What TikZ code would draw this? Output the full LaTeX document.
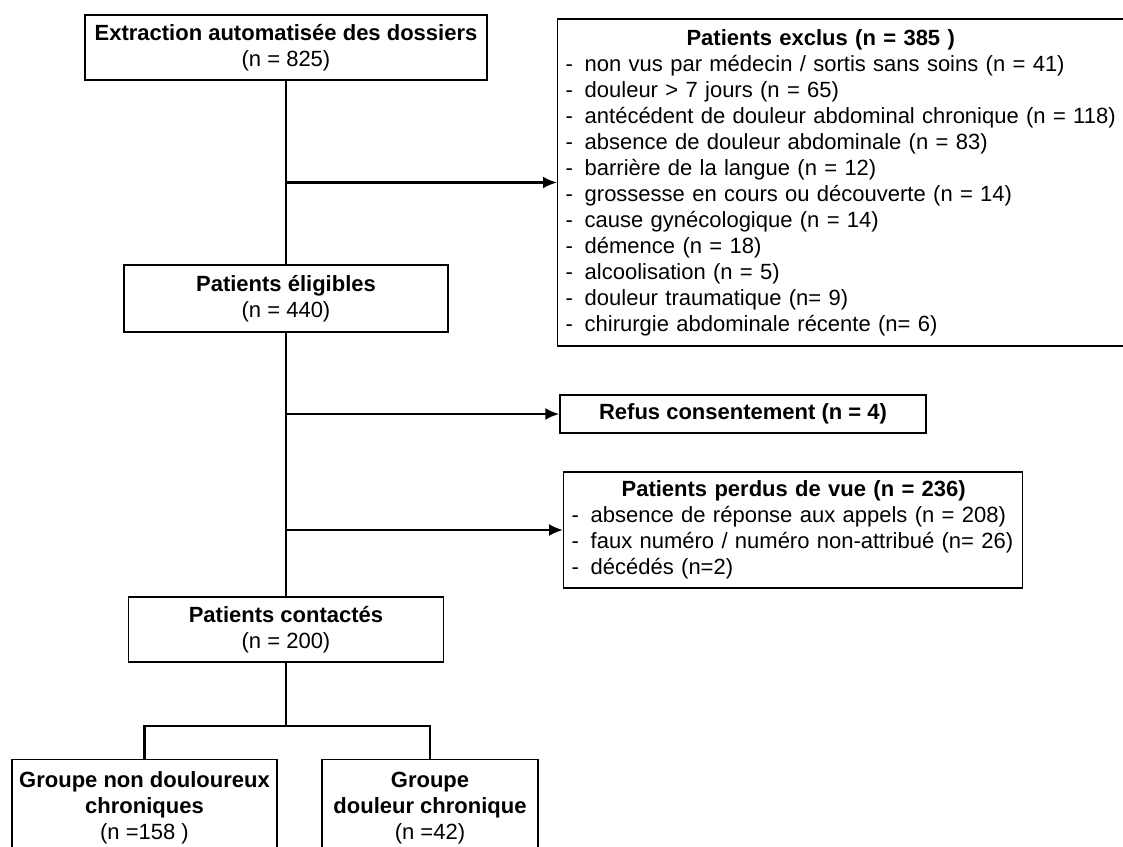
\documentclass[tikz,border=0pt]{standalone}
\usepackage{fontspec}
\setmainfont{Liberation Sans}
\usetikzlibrary{arrows.meta}

\newcommand{\dashitem}[1]{\makebox[9.5pt][l]{-}#1}

\begin{document}
\begin{tikzpicture}[x=0.5pt,y=-0.5pt,
        box/.style={draw,line width=0.7pt,align=center,inner sep=0pt,font=\fontsize{11}{13}\selectfont},
        listbox/.style={box,align=left,inner xsep=4pt},
        link/.style={line width=1.2pt},
        arr/.style={link,-{Latex[length=7pt,width=6pt]}}]
    \clip (0,0) rectangle (1123,846);
    % main column
    \node[box,minimum width=201pt,minimum height=32.5pt] (ext) at (286,47.5) {\textbf{Extraction automatisée des dossiers}\\(n = 825)};
    \node[box,minimum width=162pt,minimum height=33.5pt] (elig) at (286,298.5) {\textbf{Patients éligibles}\\(n = 440)};
    \node[box,minimum width=157.5pt,minimum height=32.5pt] (cont) at (286,629.5) {\textbf{Patients contactés}\\(n = 200)};
    % side boxes
    \node[listbox,anchor=west,text width=282pt,minimum height=163.5pt] (excl) at (557,182.5) {%
        \makebox[255pt]{\textbf{Patients exclus (n = 385 )}}\\
        \dashitem{non vus par médecin / sortis sans soins (n = 41)}\\
        \dashitem{douleur > 7 jours (n = 65)}\\
        \dashitem{antécédent de douleur abdominal chronique (n = 118)}\\
        \dashitem{absence de douleur abdominale (n = 83)}\\
        \dashitem{barrière de la langue (n = 12)}\\
        \dashitem{grossesse en cours ou découverte (n = 14)}\\
        \dashitem{cause gynécologique (n = 14)}\\
        \dashitem{démence (n = 18)}\\
        \dashitem{alcoolisation (n = 5)}\\
        \dashitem{douleur traumatique (n= 9)}\\
        \dashitem{chirurgie abdominale récente (n= 6)}};
    \node[box,minimum width=183pt,minimum height=19pt] (refus) at (743,414) {\textbf{Refus consentement (n = 4)}};
    \node[listbox,anchor=west,text width=221.5pt,minimum height=58pt] (perdus) at (563,530) {%
        \makebox[222pt]{\textbf{Patients perdus de vue (n = 236)}}\\
        \dashitem{absence de réponse aux appels (n = 208)}\\
        \dashitem{faux numéro / numéro non-attribué (n= 26)}\\
        \dashitem{décédés (n=2)}};
    % groups
    \node[box,anchor=north,minimum width=132.5pt,inner ysep=6pt] (grpA) at (144.5,759) {\textbf{Groupe non douloureux}\\\textbf{chroniques}\\(n =158 )};
    \node[box,anchor=north,minimum width=108pt,inner ysep=6pt] (grpB) at (430,759) {\textbf{Groupe}\\\textbf{douleur chronique}\\(n =42)};
    \coordinate (split) at (286,726);
    % connectors
    \draw[link] (ext.south) -- (elig.north);
    \draw[link] (elig.south) -- (cont.north);
    \draw[link] (cont.south) -- (split);
    \draw[link] (grpA.north) |- (split) -| (grpB.north);
    \draw[arr] (ext.south |- excl.west) -- (excl.west);
    \draw[arr] (elig.south |- refus.west) -- (refus.west);
    \draw[arr] (elig.south |- perdus.west) -- (perdus.west);
\end{tikzpicture}
\end{document}
